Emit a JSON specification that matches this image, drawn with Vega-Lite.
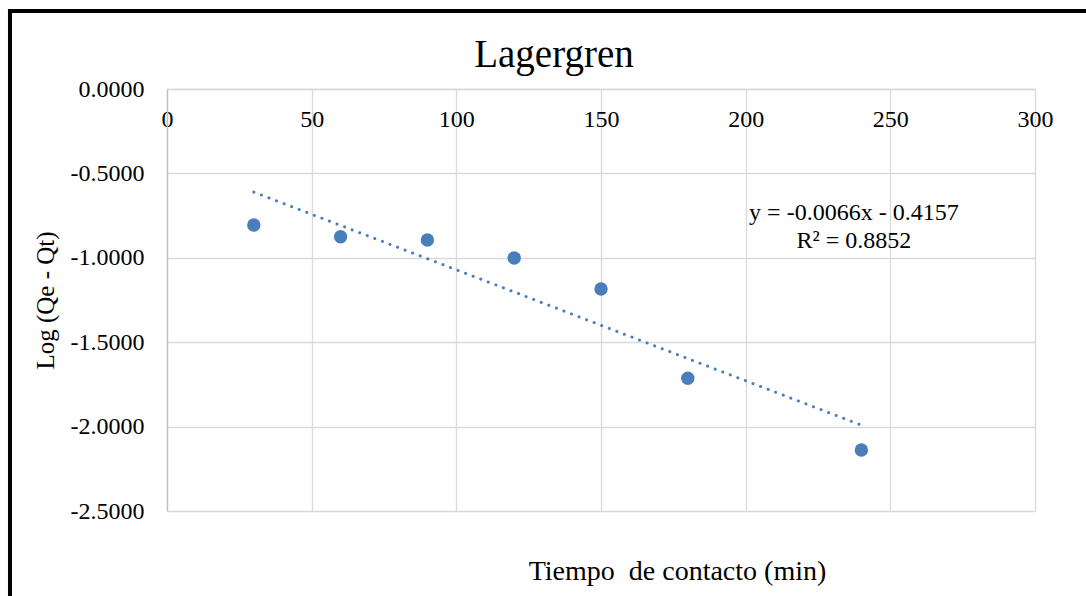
{
  "$schema": "https://vega.github.io/schema/vega-lite/v6.json",
  "width": 868,
  "height": 422,
  "autosize": {"type": "none"},
  "padding": {"left": 167, "top": 89, "right": 51, "bottom": 85},
  "background": "white",
  "config": {
    "font": "Liberation Serif",
    "view": {"stroke": null},
    "axis": {"labelFont": "Liberation Serif", "titleFont": "Liberation Serif", "labelColor": "#000000", "titleColor": "#000000", "labelFontSize": 24, "titleFontSize": 25, "titleFontWeight": "normal", "gridColor": "#d9d9d9", "gridWidth": 1.3, "ticks": false, "domainColor": "#bfbfbf", "domainWidth": 1.3}
  },
  "title": {"text": "Lagergren", "font": "Liberation Serif", "fontSize": 39, "fontWeight": "normal", "color": "#000000", "anchor": "middle", "frame": "group", "dx": -47, "dy": 113, "offset": 16, "baseline": "alphabetic"},
  "datasets": {
    "points": [
      {"tiempo": 30, "logq": -0.806},
      {"tiempo": 60, "logq": -0.875},
      {"tiempo": 90, "logq": -0.895},
      {"tiempo": 120, "logq": -1.001},
      {"tiempo": 150, "logq": -1.185},
      {"tiempo": 180, "logq": -1.714},
      {"tiempo": 240, "logq": -2.139}
    ],
    "labels": [
      {"tiempo": 237.4, "logq": -0.734, "txt": "y = -0.0066x - 0.4157"},
      {"tiempo": 237.4, "logq": -0.9, "txt": "R² = 0.8852"}
    ]
  },
  "layer": [
    {
      "data": {"name": "points"},
      "mark": {"type": "point", "filled": true, "shape": "circle", "size": 180, "color": "#4a7ebb", "opacity": 1},
      "encoding": {
        "x": {"field": "tiempo", "type": "quantitative", "scale": {"domain": [0, 300], "nice": false, "zero": false},
          "axis": {"orient": "bottom", "offset": -422, "values": [0, 50, 100, 150, 200, 250, 300], "labelPadding": 18, "labelFlush": false, "title": "Tiempo\u00a0 de contacto (min)", "titleFontSize": 28, "titleX": 510, "titleY": 490, "titleAnchor": null, "titleAlign": "center", "titleBaseline": "alphabetic", "domainColor": "#d9d9d9"}},
        "y": {"field": "logq", "type": "quantitative", "scale": {"domain": [-2.5, 0], "nice": false, "zero": false},
          "axis": {"values": [0, -0.5, -1, -1.5, -2, -2.5], "labelExpr": "replace(format(datum.value, '.4f'), '\u2212', '-')", "labelPadding": 23, "title": "Log (Qe - Qt)", "titleX": -122, "titleY": 211, "titleAngle": -90, "titleAlign": "center", "titleBaseline": "middle"}}
      }
    },
    {
      "data": {"name": "points"},
      "transform": [{"regression": "logq", "on": "tiempo", "extent": [30, 240]}],
      "mark": {"type": "line", "color": "#4a7ebb", "strokeWidth": 3, "strokeDash": [0.1, 8], "strokeCap": "round"},
      "encoding": {
        "x": {"field": "tiempo", "type": "quantitative"},
        "y": {"field": "logq", "type": "quantitative"}
      }
    },
    {
      "data": {"name": "labels"},
      "mark": {"type": "text", "font": "Liberation Serif", "fontSize": 24, "color": "#000000", "align": "center", "baseline": "middle"},
      "encoding": {
        "x": {"field": "tiempo", "type": "quantitative"},
        "y": {"field": "logq", "type": "quantitative"},
        "text": {"field": "txt"}
      }
    },
    {
      "data": {"values": [{}]},
      "mark": {"type": "rect", "fillOpacity": 0, "fill": "white", "stroke": "#000000", "strokeWidth": 4, "clip": false},
      "encoding": {
        "x": {"datum": -54.27, "type": "quantitative"},
        "x2": {"datum": 340},
        "y": {"datum": 0.462, "type": "quantitative"},
        "y2": {"datum": -3.3}
      }
    }
  ]
}
